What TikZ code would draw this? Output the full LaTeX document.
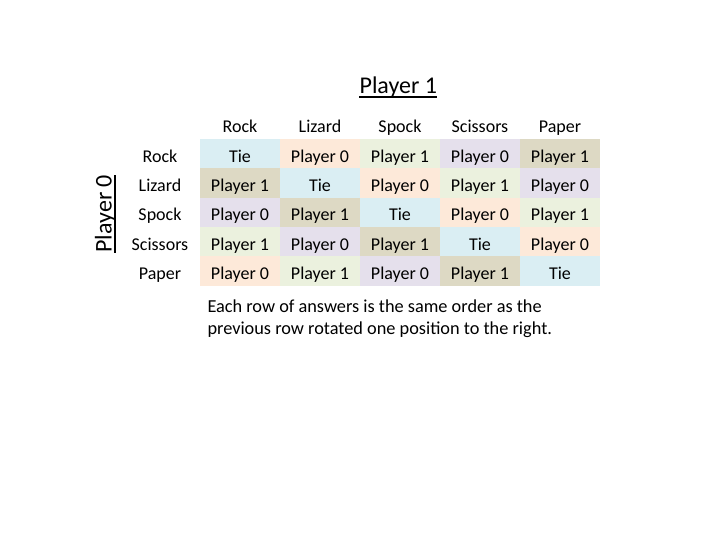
\documentclass[tikz,border=0pt]{standalone}
\usepackage{fontspec}
\setmainfont{Carlito}
\definecolor{cblue}{HTML}{DAEEF3}
\definecolor{cpeach}{HTML}{FDE9D9}
\definecolor{cgreen}{HTML}{EBF1DE}
\definecolor{clav}{HTML}{E5E0EC}
\definecolor{ctan}{HTML}{DDD9C4}
\tikzset{
  cellbox/.style={rectangle, inner sep=0pt, minimum width=80bp, minimum height=29.35bp,
    text height=17bp, text depth=0pt, font=\fontsize{18bp}{21bp}\selectfont},
  headlabel/.style={inner sep=0pt, text height=17bp, text depth=0pt,
    font=\fontsize{18bp}{21bp}\selectfont},
  titlelabel/.style={inner sep=0pt, font=\fontsize{24bp}{28bp}\selectfont},
  uline/.style={line width=1.4bp},
  notetext/.style={inner sep=0pt, anchor=base west,
    font=\fontsize{18.3bp}{21bp}\selectfont}
}
\begin{document}
\begin{tikzpicture}[x=1bp,y=-1bp]
\useasboundingbox[fill=white] (0,0) rectangle (720,540);
% titles
\node[titlelabel, anchor=base] (t1) at (398.3,93.6) {Player 1};
\draw[uline] ([yshift=-3.5bp]t1.base west) -- ([yshift=-3.5bp]t1.base east);
\node[titlelabel, anchor=base, rotate=90] (t0) at (111.5,213.7) {Player 0};
\draw[uline] ([xshift=3.5bp]t0.base west) -- ([xshift=3.5bp]t0.base east);
% headers
\foreach \name [count=\j from 0] in {Rock,Lizard,Spock,Scissors,Paper}{
  \node[headlabel] (h\j) at (240+80*\j,123.8) {\name};
  \node[headlabel] (r\j) at (160,153.7+29.35*\j) {\name};
}
% cells
\foreach \i in {0,...,4}{
  \foreach \j in {0,...,4}{
    \pgfmathtruncatemacro\k{mod(\j-\i+5,5)}
    \ifcase\k
      \def\cc{cblue}\def\tt{Tie}\or
      \def\cc{cpeach}\def\tt{Player 0}\or
      \def\cc{cgreen}\def\tt{Player 1}\or
      \def\cc{clav}\def\tt{Player 0}\or
      \def\cc{ctan}\def\tt{Player 1}\fi
    \node[cellbox, fill=\cc] (c\i\j) at (240+80*\j,153.7+29.35*\i) {\tt};
  }
}
\node[notetext] (note1) at (207.3,312.8) {Each row of answers is the same order as the};
\node[notetext] (note2) at (207.3,334.0) {previous row rotated one position to the right.};
\end{tikzpicture}
\end{document}
